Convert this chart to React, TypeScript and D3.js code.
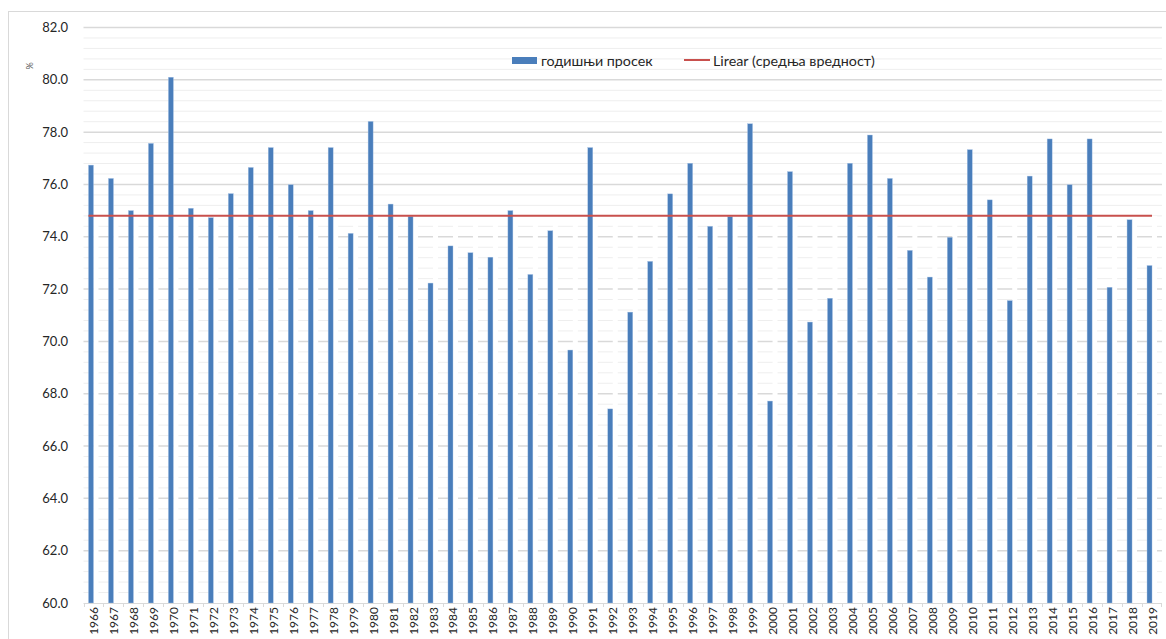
import React from "react";
import * as d3 from "d3";

const years: string[] = [
  "1966","1967","1968","1969","1970","1971","1972","1973","1974","1975",
  "1976","1977","1978","1979","1980","1981","1982","1983","1984","1985",
  "1986","1987","1988","1989","1990","1991","1992","1993","1994","1995",
  "1996","1997","1998","1999","2000","2001","2002","2003","2004","2005",
  "2006","2007","2008","2009","2010","2011","2012","2013","2014","2015",
  "2016","2017","2018","2019",
];

const annualAverage: number[] = [
  76.74, 76.23, 75.0, 77.57, 80.1, 75.09, 74.73, 75.65, 76.65, 77.41,
  75.99, 75.0, 77.41, 74.13, 78.41, 75.25, 74.78, 72.23, 73.65, 73.39,
  73.22, 75.0, 72.56, 74.23, 69.67, 77.41, 67.42, 71.12, 73.06, 75.64,
  76.81, 74.4, 74.77, 78.32, 67.72, 76.49, 70.74, 71.65, 76.81, 77.89,
  76.23, 73.48, 72.46, 73.98, 77.33, 75.41, 71.56, 76.32, 77.74, 75.99,
  77.74, 72.07, 74.65, 72.9,
];

const meanValue = 74.8;

const yTicks: number[] = [60, 62, 64, 66, 68, 70, 72, 74, 76, 78, 80, 82];

const seriesLabels: string[] = ["годишњи просек", "Lirear (средња вредност)"];

const W = 1166;
const H = 639;
const FONT = "Lato, 'Liberation Sans', sans-serif";

export default function App() {
  const x = d3.scaleBand<string>().domain(years).range([83.5, 1162]).padding(0);
  const y = d3.scaleLinear().domain([60, 82]).range([603, 27.5]);
  const bw = x.bandwidth();
  const barW = 5;

  const minor = d3.range(0, 56).map((i) => 60 + i * 0.4).filter((v) => Math.abs(v - Math.round(v / 2) * 2) > 0.01);

  const first = years[0];
  const last = years[years.length - 1];
  const lineX1 = (x(first) as number) + bw / 2 - barW;
  const lineX2 = (x(last) as number) + bw / 2;

  return (
    <div style={{ position: "absolute", left: 0, top: 0, width: W, height: H, overflow: "hidden", background: "#fff" }}>
      <svg width={W} height={H} style={{ display: "block" }} fontFamily={FONT}>
        <rect x={8.5} y={11.5} width={1200} height={700} fill="#fff" stroke="#d9d9d9" strokeWidth={1} />
        {/* minor gridlines */}
        {minor.map((v, i) => (
          <line key={"m" + i} x1={83.5} x2={1162} y1={y(v)} y2={y(v)} stroke="#eeeeee" strokeWidth={1} />
        ))}
        {/* major gridlines */}
        {yTicks.slice(1).map((v) => (
          <line key={"g" + v} x1={83.5} x2={1162} y1={y(v)} y2={y(v)} stroke="#d9d9d9" strokeWidth={1.5} />
        ))}
        {/* y tick labels */}
        {yTicks.map((v) => (
          <text key={"t" + v} x={68} y={y(v) + 4.5} textAnchor="end" fontSize={13} fill="#262626">
            {d3.format(".1f")(v)}
          </text>
        ))}
        <text transform={`translate(33,66) rotate(-90)`} fontSize={9} fill="#595959" textAnchor="middle">
          %
        </text>
        {/* hidden (white) series bars */}
        {years.map((yr) => (
          <rect key={"w" + yr} x={(x(yr) as number) + bw / 2} y={y(meanValue)} width={barW} height={y(60) - y(meanValue)} fill="#ffffff" />
        ))}
        {/* annual average bars */}
        {years.map((yr, i) => (
          <rect
            key={"b" + yr}
            x={(x(yr) as number) + bw / 2 - barW}
            y={y(annualAverage[i])}
            width={barW}
            height={y(60) - y(annualAverage[i])}
            fill="#4a7ebb"
            stroke="#a9c4e6"
            strokeWidth={0.4}
          />
        ))}
        {/* mean line */}
        <line x1={lineX1} x2={lineX2} y1={y(meanValue)} y2={y(meanValue)} stroke="#c8504d" strokeWidth={2} />
        {/* x axis */}
        <line x1={83.5} x2={1162} y1={603.5} y2={603.5} stroke="#d9d9d9" strokeWidth={1} />
        {years.map((yr) => (
          <line key={"k" + yr} x1={Math.round(x(yr) as number) + 0.5} x2={Math.round(x(yr) as number) + 0.5} y1={603} y2={607} stroke="#d9d9d9" />
        ))}
        <line x1={1161.5} x2={1161.5} y1={603} y2={607} stroke="#d9d9d9" />
        {years.map((yr) => (
          <text
            key={"x" + yr}
            transform={`translate(${(x(yr) as number) + bw / 2 + 4.5},607) rotate(-90)`}
            textAnchor="end"
            fontSize={12}
            fill="#262626"
          >
            {yr}
          </text>
        ))}
        {/* legend */}
        <rect x={512} y={57} width={25} height={7} fill="#4a7ebb" />
        <text x={541} y={65.5} fontSize={14.3} fill="#262626">{seriesLabels[0]}</text>
        <line x1={684} x2={710} y1={60} y2={60} stroke="#c8504d" strokeWidth={2} />
        <text x={713} y={65.5} fontSize={14.3} fill="#262626">{seriesLabels[1]}</text>
      </svg>
    </div>
  );
}
